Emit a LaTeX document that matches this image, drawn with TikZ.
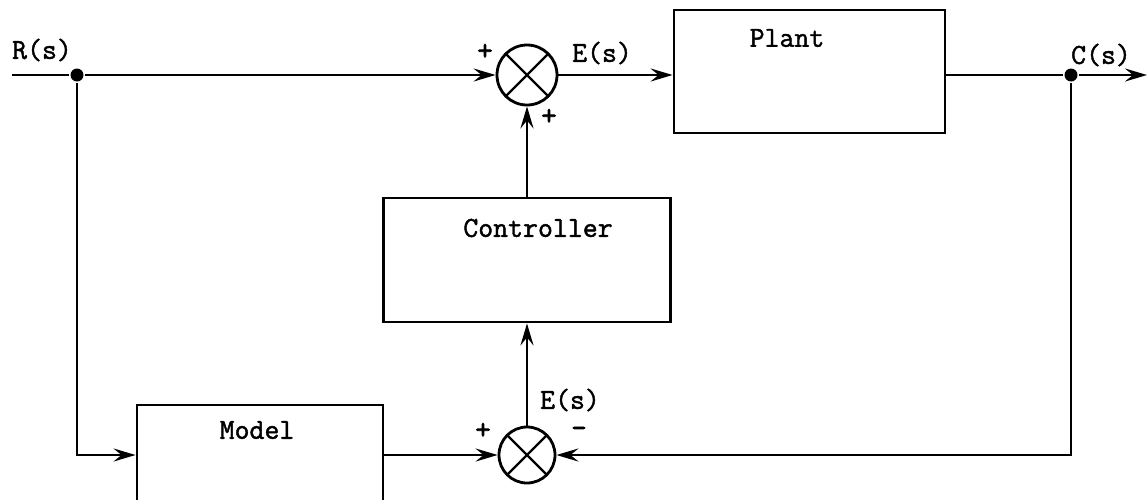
\documentclass[tikz,border=0pt]{standalone}
\usepackage{fontspec}
\newfontfamily\maquina[FakeBold=1.5]{Latin Modern Mono}
\newfontfamily\signos[FakeBold=2.5]{Latin Modern Mono}
\usetikzlibrary{arrows.meta}

\begin{document}
\begin{tikzpicture}[x=1pt, y=-1pt, line width=2.8pt,
  bloque/.style={draw, rectangle, inner sep=0pt},
  suma/.style={draw, circle, minimum size=60pt, inner sep=0pt,
    path picture={\draw[line width=2.2pt] (path picture bounding box.north west) -- (path picture bounding box.south east)
      (path picture bounding box.north east) -- (path picture bounding box.south west);}},
  punto/.style={circle, fill, minimum size=13pt, inner sep=0pt},
  txt/.style={font=\maquina\fontsize{29}{29}\selectfont, inner sep=0pt},
  signo/.style={font=\signos\fontsize{30}{30}\selectfont, inner sep=0pt},
  flecha/.style={-{Stealth[length=22pt,width=13pt,inset=8pt]}}]

\useasboundingbox (0,0) rectangle (1148,499);

% Camino directo
\coordinate (in) at (12,75);
\node[punto] (dotR) at (77,75) {};
\node[suma] (sumT) at (527,75) {};
\node[bloque, minimum width=271pt, minimum height=123pt] (plant) at (809.5,71.5) {};
\node[punto] (dotC) at (1071,75) {};
\coordinate (out) at (1147,75);

% Controlador, comparador y modelo
\node[bloque, minimum width=287pt, minimum height=124pt] (ctrl) at (527,260) {};
\node[suma, minimum size=56pt] (sumB) at (527,455) {};
\node[bloque, minimum width=246pt, minimum height=130pt] (model) at (260,470) {};

% Textos
\node[txt] (lR) at (42,50) {R(s)};
\node[txt] (lE1) at (602,53) {E(s)};
\node[txt] (lC) at (1101,55) {C(s)};
\node[txt] (lE2) at (570,400) {E(s)};
\node[txt] (lPlant) at (787,38) {Plant};
\node[txt] (lCtrl) at (538,228) {Controller};
\node[txt] (lModel) at (257,430) {Model};
\node[signo] (s1) at (485,52) {+};
\node[signo] (s2) at (549,117) {+};
\node[signo] (s3) at (483,431) {+};
\node[signo] (s4) at (579,432) {-};

% Conexiones
\draw (in) -- (dotR);
\draw[flecha] (dotR) -- (sumT);
\draw[flecha] (sumT) -- (sumT -| plant.west);
\draw (dotC -| plant.east) -- (dotC);
\draw[flecha] (dotC) -- (out);
\draw[flecha] (ctrl) -- (sumT);
\draw[flecha] (sumB) -- (ctrl);
\draw[flecha] (dotR) |- (sumB -| model.west);
\draw[flecha] (sumB -| model.east) -- (sumB);
\draw[flecha] (dotC) |- (sumB);

\end{tikzpicture}
\end{document}
